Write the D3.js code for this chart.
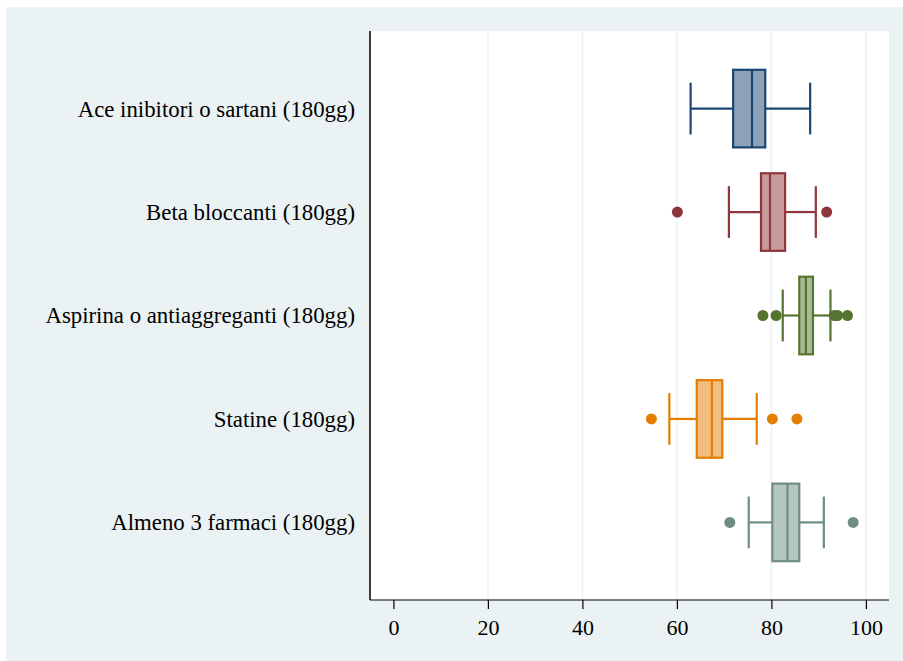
<!DOCTYPE html>
<html>
<head>
<meta charset="utf-8">
<script src="https://cdn.jsdelivr.net/npm/d3@7"></script>
<style>
  body { margin: 0; background: #fff; }
  text { font-family: "Liberation Serif", "Times New Roman", serif; fill: #000; }
</style>
</head>
<body>
<div id="chart"></div>
<script>
// Box plot data
var categories = [
  "Ace inibitori o sartani (180gg)",
  "Beta bloccanti (180gg)",
  "Aspirina o antiaggreganti (180gg)",
  "Statine (180gg)",
  "Almeno 3 farmaci (180gg)"
];
var whiskerLow  = [62.9, 71.0, 82.4, 58.4, 75.2];
var q1          = [71.9, 77.8, 85.9, 64.2, 80.2];
var median      = [75.9, 79.7, 87.3, 67.4, 83.4];
var q3          = [78.7, 82.9, 88.8, 69.6, 85.9];
var whiskerHigh = [88.2, 89.4, 92.5, 76.9, 91.1];
var outliers    = [[], [60.1, 91.7], [78.2, 81.0, 93.3, 94.0, 96.1], [54.6, 80.2, 85.4], [71.2, 97.3]];
var xTicks = [0, 20, 40, 60, 80, 100];

var lineColors = ["#1a476f", "#90353b", "#55752f", "#e37e00", "#6e8e84"];
var fillColors = ["#8ca3b7", "#c89a9d", "#aaba97", "#f1be7f", "#b6c6c1"];

var svgWidth = 903;
var svgHeight = 661;

// plot region
var plot = { left: 370, right: 889, top: 31, bottom: 600 };

var svg = d3.select("#chart")
  .append("svg")
  .attr("width", svgWidth)
  .attr("height", svgHeight);

// outer background
svg.append("rect")
  .attr("x", 6).attr("y", 7)
  .attr("width", svgWidth - 6).attr("height", svgHeight - 7)
  .attr("fill", "#eaf2f3");

svg.append("rect")
  .attr("x", plot.left).attr("y", plot.top)
  .attr("width", plot.right - plot.left).attr("height", plot.bottom - plot.top)
  .attr("fill", "#fff");

var xScale = d3.scaleLinear()
  .domain([0, 100])
  .range([393.4, 865.9]);

var yScale = d3.scalePoint()
  .domain(categories)
  .range([plot.top, plot.bottom])
  .padding(0.75);

var step = yScale.step();
var boxH = step * 0.75;
var capH = step * 0.5;

// gridlines
svg.append("g")
  .selectAll("line")
  .data(xTicks.filter(d => d > 0))
  .enter()
  .append("line")
  .attr("x1", d => xScale(d)).attr("x2", d => xScale(d))
  .attr("y1", plot.top).attr("y2", plot.bottom)
  .attr("stroke", "#eaf2f3")
  .attr("stroke-width", 1.5);

// x axis
var xAxis = d3.axisBottom(xScale)
  .tickValues(xTicks)
  .tickSize(9)
  .tickSizeOuter(0)
  .tickPadding(10);

var axisG = svg.append("g")
  .attr("transform", `translate(0, ${plot.bottom})`)
  .call(xAxis);
axisG.select(".domain").remove();
axisG.selectAll(".tick line").attr("stroke", "#000").attr("stroke-width", 1.2);
axisG.selectAll(".tick text")
  .style("font-family", '"Liberation Serif", "Times New Roman", serif')
  .style("font-size", "22px");

svg.append("line")
  .attr("x1", plot.left).attr("x2", plot.right)
  .attr("y1", plot.bottom).attr("y2", plot.bottom)
  .attr("stroke", "#000").attr("stroke-width", 1.2);

svg.append("line")
  .attr("x1", plot.left).attr("x2", plot.left)
  .attr("y1", plot.top).attr("y2", plot.bottom)
  .attr("stroke", "#000").attr("stroke-width", 1.5);

// category labels
svg.append("g")
  .selectAll("text")
  .data(categories)
  .enter()
  .append("text")
  .attr("x", 355)
  .attr("y", d => yScale(d))
  .attr("dy", "0.35em")
  .attr("text-anchor", "end")
  .style("font-size", "22.8px")
  .text(d => d);

// boxes
var boxes = svg.append("g")
  .selectAll("g")
  .data(categories)
  .enter()
  .append("g");

boxes.each(function(cat, i) {
  var g = d3.select(this);
  var cy = yScale(cat);
  var col = lineColors[i];

  // whisker lines
  g.append("line")
    .attr("x1", xScale(whiskerLow[i])).attr("x2", xScale(q1[i]))
    .attr("y1", cy).attr("y2", cy)
    .attr("stroke", col).attr("stroke-width", 2.2);
  g.append("line")
    .attr("x1", xScale(q3[i])).attr("x2", xScale(whiskerHigh[i]))
    .attr("y1", cy).attr("y2", cy)
    .attr("stroke", col).attr("stroke-width", 2.2);

  // caps
  [whiskerLow[i], whiskerHigh[i]].forEach(function(v) {
    g.append("line")
      .attr("x1", xScale(v)).attr("x2", xScale(v))
      .attr("y1", cy - capH / 2).attr("y2", cy + capH / 2)
      .attr("stroke", col).attr("stroke-width", 2.2);
  });

  g.append("rect")
    .attr("x", xScale(q1[i]))
    .attr("y", cy - boxH / 2)
    .attr("width", xScale(q3[i]) - xScale(q1[i]))
    .attr("height", boxH)
    .attr("fill", fillColors[i])
    .attr("stroke", col)
    .attr("stroke-width", 2.2);

  g.append("line")
    .attr("x1", xScale(median[i])).attr("x2", xScale(median[i]))
    .attr("y1", cy - boxH / 2).attr("y2", cy + boxH / 2)
    .attr("stroke", col).attr("stroke-width", 2.2);

  g.selectAll("circle")
    .data(outliers[i])
    .enter()
    .append("circle")
    .attr("cx", d => xScale(d))
    .attr("cy", cy)
    .attr("r", 5.5)
    .attr("fill", col);
});
</script>
</body>
</html>
